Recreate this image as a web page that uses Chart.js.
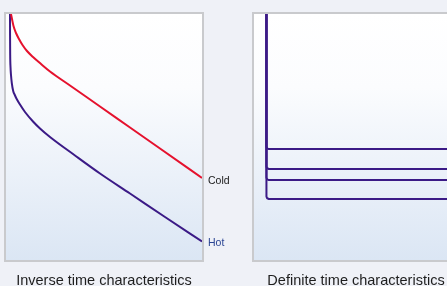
<!DOCTYPE html>
<html>
<head>
<meta charset="utf-8">
<script src="https://cdn.jsdelivr.net/npm/chart.js@4"></script>
<style>
  html, body { margin: 0; padding: 0; background: #eff1f7; width: 447px; height: 286px; overflow: hidden; }
  #left { position: absolute; left: 0; top: 0; }
  #right { position: absolute; left: 246px; top: 0; }
</style>
</head>
<body>
<canvas id="left" width="240" height="290"></canvas>
<canvas id="right" width="240" height="290"></canvas>
<script>
// ---- Data (current multiple on x, trip time on y; arbitrary units 0..100) ----
const coldX = [2.55, 3.06, 3.83, 5.10, 6.63, 8.42, 10.71, 13.78, 17.86, 22.45, 32.65, 47.96, 63.27, 78.57, 100];
const coldY = [100, 97.97, 95.12, 92.28, 89.84, 87.40, 84.96, 82.52, 79.67, 76.63, 70.93, 62.40, 53.86, 45.33, 33.33];
const hotX = [2.04, 2.07, 2.14, 2.30, 2.55, 2.96, 3.67, 4.49, 5.46, 7.14, 9.69, 13.78, 17.35, 22.45, 35.20, 47.96, 63.27, 81.12, 100];
const hotY = [100, 91.46, 83.33, 78.46, 75.20, 71.95, 68.70, 67.07, 65.45, 63.21, 60.16, 56.30, 53.46, 50.0, 42.48, 35.16, 27.03, 17.48, 7.52];
const seriesNames = ["Cold", "Hot"];
const definitePickup = 6.1;
const definiteLevels = [45.1, 37.0, 32.5, 24.8];
const titles = ["Inverse time characteristics", "Definite time characteristics"];

const RED = "#e5112d";
const PURPLE = "#3b1a86";
const CORNER_X = 1.2; // corner rounding size (style), in axis units
const CORNER_Y = 1.0;

const panelPlugin = {
  id: "panel",
  beforeDatasetsDraw(chart) {
    const { ctx, chartArea: a } = chart;
    ctx.save();
    const g = ctx.createLinearGradient(0, a.top, 0, a.bottom);
    g.addColorStop(0, "#ffffff");
    g.addColorStop(0.3, "#fbfcfe");
    g.addColorStop(1, "#dbe6f4");
    ctx.fillStyle = g;
    ctx.fillRect(a.left, a.top, a.right - a.left, a.bottom - a.top);
    ctx.strokeStyle = "#c9cacd";
    ctx.lineWidth = 2;
    ctx.strokeRect(a.left - 1, a.top - 1, a.right - a.left + 2, a.bottom - a.top + 2);
    ctx.restore();
  }
};

const endLabelPlugin = {
  id: "endLabels",
  afterDatasetsDraw(chart) {
    const { ctx } = chart;
    chart.data.datasets.forEach((ds, i) => {
      if (!ds.endLabel) return;
      const meta = chart.getDatasetMeta(i);
      const pt = meta.data[meta.data.length - 1];
      ctx.save();
      ctx.font = "10.5px 'Liberation Sans', Arial, sans-serif";
      ctx.fillStyle = ds.labelColor;
      ctx.textBaseline = "middle";
      ctx.textAlign = "left";
      ctx.fillText(ds.label, pt.x + 6, pt.y + ds.labelDy);
      ctx.restore();
    });
  }
};

function baseOptions(title, pad) {
  return {
    responsive: false,
    devicePixelRatio: 1,
    animation: false,
    events: [],
    layout: { padding: pad },
    plugins: {
      legend: { display: false },
      tooltip: { enabled: false },
      title: {
        display: true,
        text: title,
        position: "bottom",
        color: "#1e1e1e",
        font: { family: "'Liberation Sans', Arial, sans-serif", size: 14.5, weight: "normal", lineHeight: 1.2 },
        padding: { top: 12, bottom: 0.6 }
      }
    },
    elements: { point: { radius: 0 } },
    scales: {
      x: { type: "linear", display: false, min: 0, max: 100 },
      y: { type: "linear", display: false, min: 0, max: 100 }
    }
  };
}

const toPts = (xs, ys) => xs.map((x, i) => ({ x, y: ys[i] }));

new Chart(document.getElementById("left"), {
  type: "line",
  data: {
    datasets: [
      { label: seriesNames[0], data: toPts(coldX, coldY), borderColor: RED, borderWidth: 2,
        cubicInterpolationMode: "monotone", endLabel: true, labelColor: "#1a1a1a", labelDy: 3.2 },
      { label: seriesNames[1], data: toPts(hotX, hotY), borderColor: PURPLE, borderWidth: 2,
        cubicInterpolationMode: "monotone", endLabel: true, labelColor: "#2b4593", labelDy: 1.6 }
    ]
  },
  options: baseOptions(titles[0], { left: 6, right: 38, top: 14, bottom: 0 }),
  plugins: [panelPlugin, endLabelPlugin]
});

new Chart(document.getElementById("right"), {
  type: "line",
  data: {
    datasets: definiteLevels.map((lv, i) => ({
      label: "t" + (i + 1),
      data: [
        { x: definitePickup, y: 100 },
        { x: definitePickup, y: lv + CORNER_Y },
        { x: definitePickup + CORNER_X * 0.3, y: lv + CORNER_Y * 0.3 },
        { x: definitePickup + CORNER_X, y: lv },
        { x: 100, y: lv }
      ],
      borderColor: PURPLE,
      borderWidth: 2,
      borderJoinStyle: "round",
      tension: 0
    }))
  },
  options: baseOptions(titles[1], { left: 8, right: 28, top: 14, bottom: 0 }),
  plugins: [panelPlugin]
});
</script>
</body>
</html>
